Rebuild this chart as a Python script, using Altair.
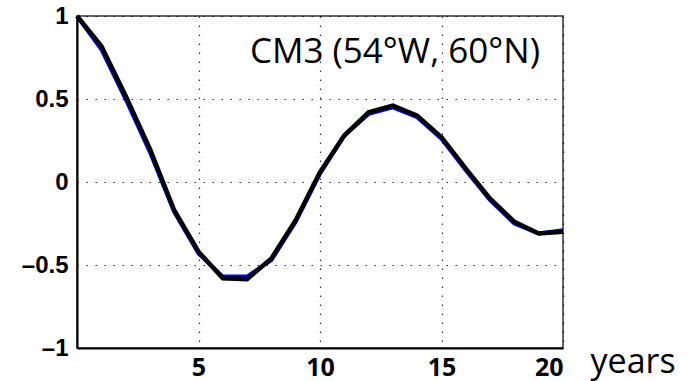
import altair as alt
import pandas as pd

years = list(range(21))
black_vals = [1.0, 0.82, 0.52, 0.20, -0.17, -0.42, -0.58, -0.585, -0.46, -0.23, 0.06,
              0.28, 0.42, 0.46, 0.40, 0.27, 0.08, -0.10, -0.24, -0.31, -0.30]
blue_vals = [1.0, 0.80, 0.50, 0.18, -0.18, -0.43, -0.57, -0.57, -0.47, -0.24, 0.05,
             0.28, 0.41, 0.45, 0.39, 0.26, 0.07, -0.11, -0.25, -0.31, -0.29]
x_ticks = [5, 10, 15, 20]
y_ticks = [-1, -0.5, 0, 0.5, 1]
label_text = "CM3 (54°W, 60°N)"
x_unit = "years"

df_black = pd.DataFrame({"year": years, "value": black_vals})
df_blue = pd.DataFrame({"year": years, "value": blue_vals})

grid_kw = dict(gridColor="#000", gridDash=[1.5, 7.5], gridWidth=1.2, gridOpacity=0.8)

x_enc = alt.X(
    "year:Q",
    scale=alt.Scale(domain=[0, 20], nice=False, zero=False),
    axis=alt.Axis(
        values=x_ticks, title=x_unit, grid=True, ticks=False,
        labelFont="Open Sans", labelFontWeight="bold", labelFontSize=25,
        labelPadding=7, labelColor="#000",
        titleFont="Open Sans", titleFontWeight="normal", titleFontSize=34,
        titleColor="#000", titleAlign="left", titleBaseline="alphabetic",
        titleAnchor="start", titleX=513, titleY=24,
        domainColor="#000", domainWidth=2, **grid_kw,
    ),
)
y_enc = alt.Y(
    "value:Q",
    scale=alt.Scale(domain=[-1, 1], nice=False, zero=False),
    axis=alt.Axis(
        values=y_ticks, title=None, grid=True, ticks=False,
        labelExpr="datum.value == 0 ? '0' : (datum.value < 0 ? '\u2013' : '') + format(abs(datum.value), '~g')",
        labelFont="Liberation Sans", labelFontWeight="bold", labelFontSize=24,
        labelPadding=9, labelColor="#000",
        domainColor="#000", domainWidth=2, **grid_kw,
    ),
)

blue = alt.Chart(df_blue).mark_line(color="#0000ff", strokeWidth=4).encode(x=x_enc, y=y_enc)
black = alt.Chart(df_black).mark_line(color="#000000", strokeWidth=4.5).encode(x=x_enc, y=y_enc)
label = alt.Chart(pd.DataFrame({"t": [label_text]})).mark_text(
    align="right", baseline="alphabetic", font="Open Sans", fontSize=35, color="#000"
).encode(text="t:N", x=alt.value(463), y=alt.value(47))

chart = alt.layer(blue, black, label).properties(
    width=486, height=332,
    autosize=alt.AutoSizeParams(type="none"),
    padding={"left": 77, "top": 16, "right": 129, "bottom": 33},
).configure_view(stroke="#333", strokeWidth=1.5)

chart.save("out.html", embed_options={"renderer": "svg", "actions": False})
